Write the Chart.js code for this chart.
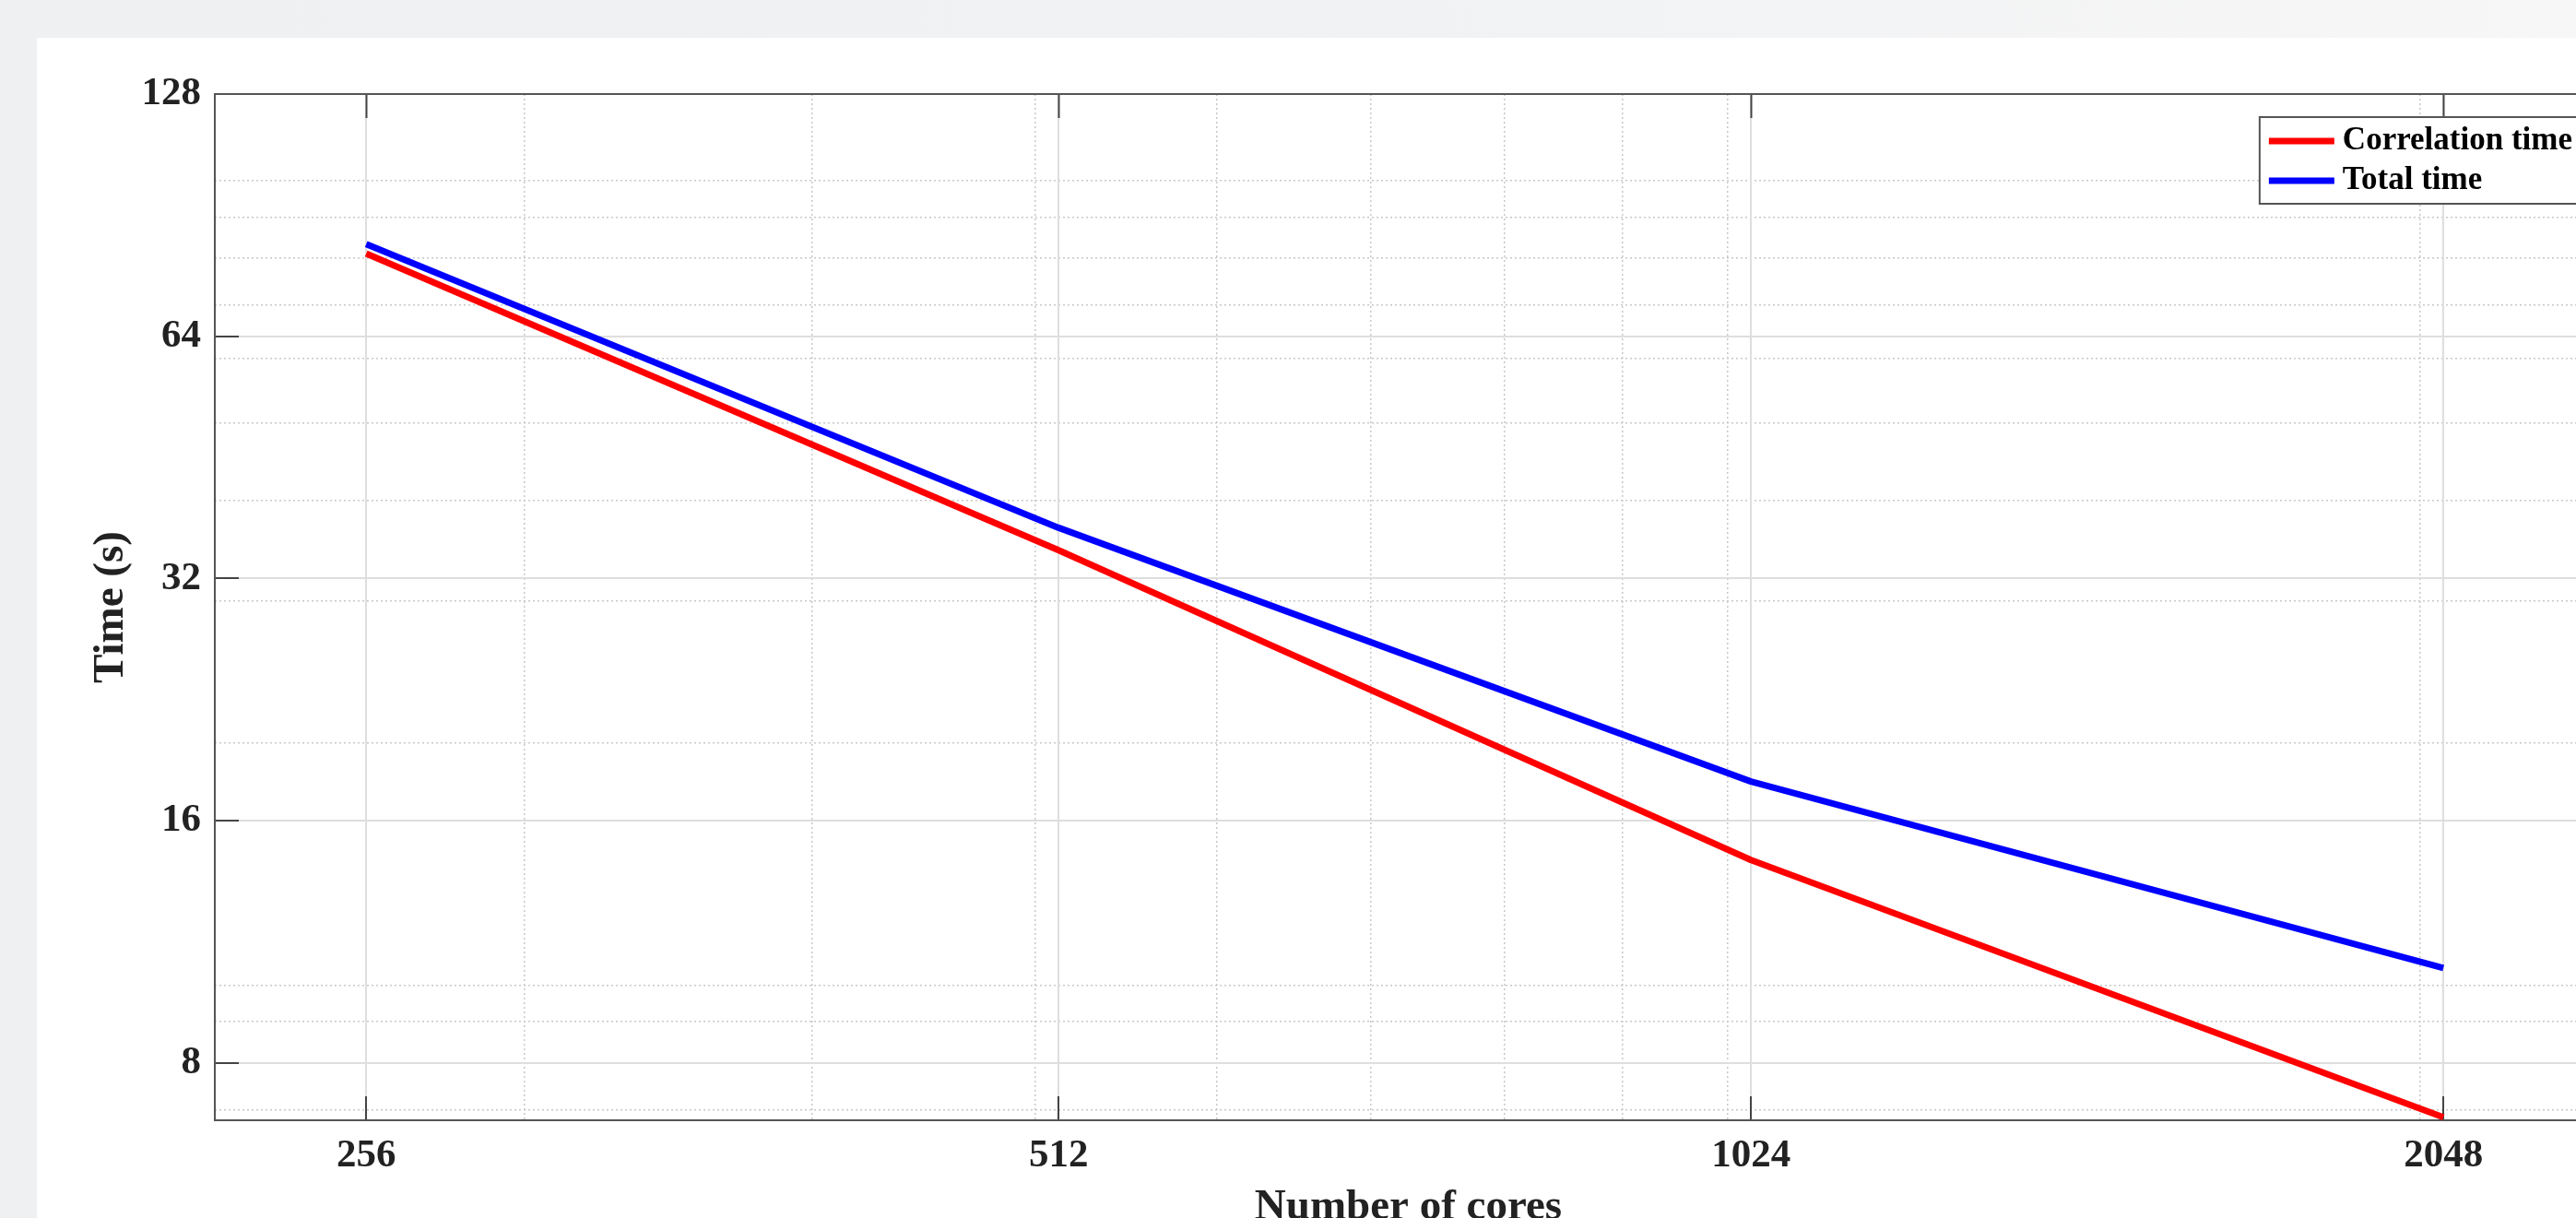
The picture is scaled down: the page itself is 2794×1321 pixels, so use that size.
<!DOCTYPE html>
<html>
<head>
<meta charset="utf-8">
<title>Scaling: time vs number of cores</title>
<script src="https://cdn.jsdelivr.net/npm/chart.js@4/dist/chart.umd.min.js"></script>
<style>
  html, body {
    margin: 0;
    padding: 0;
    width: 2794px;
    height: 1321px;
    overflow: hidden;
    background: linear-gradient(90deg, #eef0f2 0%, #f1f2f4 55%, #f7f7f7 100%);
  }
  #panel {
    position: absolute;
    left: 40px;
    top: 41px;
    width: 2830px;
    height: 1330px;
    background: #ffffff;
  }
  canvas { display: block; }
</style>
</head>
<body>
<div id="panel"><canvas id="chart" width="2830" height="1330"></canvas></div>
<script>
// ---- data ----
const cores = [256, 512, 1024, 2048];
const correlationTime = [81.1, 34.7, 14.3, 6.85];
const totalTime = [83.3, 37.0, 17.9, 10.5];

// ---- axis ticks and limits ----
const xMajorTicks = [256, 512, 1024, 2048];
const xMinorTicks = [300, 400, 500, 600, 700, 800, 900, 1000, 2000];
const yMajorTicks = [8, 16, 32, 64, 128];
const yMinorTicks = [7, 9, 10, 20, 30, 40, 50, 60, 70, 80, 90, 100];
const xLimits = [220, 2400];
const yLimits = [6.79, 128];

const seriesLabels = ['Correlation time', 'Total time'];
const seriesColors = ['#ff0000', '#0000ff'];

Chart.defaults.font.family = "'Liberation Serif', 'Times New Roman', serif";
Chart.defaults.font.weight = 'bold';

const AXIS_COLOR = '#555555';
const TICK_COLOR = '#444444';
const TEXT_COLOR = '#222222';
const MAJOR_GRID = '#dedede';
const MINOR_GRID = '#c8c8c8';

const useTicks = list => scale => { scale.ticks = list.map(v => ({ value: v })); };

// Fixed box sizes so the plot area lands where the layout wants it.
const fitHeight = h => scale => {
  scale.height = h;
  scale.paddingLeft = scale.paddingRight = scale.paddingTop = scale.paddingBottom = 0;
};
const fitWidth = w => scale => {
  scale.width = w;
  scale.paddingLeft = scale.paddingRight = scale.paddingTop = scale.paddingBottom = 0;
};

// Inward tick marks (box-style axes)
const inwardTicks = {
  drawTicks: true,
  tickLength: -26,
  tickColor: TICK_COLOR,
  tickWidth: 2
};

// Boxed legend drawn inside the upper-right corner of the plot area
const boxedLegend = {
  id: 'boxedLegend',
  afterDraw(chart) {
    const { ctx, chartArea } = chart;
    const fontSize = 35;
    ctx.save();
    ctx.font = `bold ${fontSize}px 'Liberation Serif', 'Times New Roman', serif`;
    const sets = chart.data.datasets;
    const textW = Math.max(...sets.map(d => ctx.measureText(d.label).width));
    const padL = 10, sampleLen = 71, gap = 9, padR = 10;
    const rowGap = 43, firstRow = 26, boxH = 94;
    const boxW = padL + sampleLen + gap + textW + padR;
    const right = chartArea.right - 22;
    const left = right - boxW;
    const top = chartArea.top + 25;

    ctx.fillStyle = '#ffffff';
    ctx.fillRect(left, top, boxW, boxH);
    ctx.strokeStyle = AXIS_COLOR;
    ctx.lineWidth = 2;
    ctx.strokeRect(left, top, boxW, boxH);

    sets.forEach((d, i) => {
      const y = top + firstRow + i * rowGap;
      ctx.beginPath();
      ctx.strokeStyle = d.borderColor;
      ctx.lineWidth = 7;
      ctx.lineCap = 'butt';
      ctx.moveTo(left + padL, y);
      ctx.lineTo(left + padL + sampleLen, y);
      ctx.stroke();
      ctx.fillStyle = '#000000';
      ctx.textAlign = 'left';
      ctx.textBaseline = 'middle';
      ctx.fillText(d.label, left + padL + sampleLen + gap, y);
    });
    ctx.restore();
  }
};

const toPoints = values => cores.map((c, i) => ({ x: c, y: values[i] }));

new Chart(document.getElementById('chart'), {
  type: 'line',
  data: {
    datasets: [
      {
        label: seriesLabels[0],
        data: toPoints(correlationTime),
        borderColor: seriesColors[0],
        backgroundColor: seriesColors[0],
        borderWidth: 7,
        borderJoinStyle: 'round',
        pointRadius: 0,
        tension: 0,
        xAxisID: 'x',
        yAxisID: 'y'
      },
      {
        label: seriesLabels[1],
        data: toPoints(totalTime),
        borderColor: seriesColors[1],
        backgroundColor: seriesColors[1],
        borderWidth: 7,
        borderJoinStyle: 'round',
        pointRadius: 0,
        tension: 0,
        xAxisID: 'x',
        yAxisID: 'y'
      }
    ]
  },
  options: {
    responsive: false,
    animation: false,
    devicePixelRatio: 1,
    layout: { padding: { left: 0, top: 61, right: 48, bottom: 0 } },
    plugins: {
      legend: { display: false },
      tooltip: { enabled: false }
    },
    scales: {
      xMinor: {
        type: 'logarithmic',
        position: 'bottom',
        min: xLimits[0], max: xLimits[1],
        afterBuildTicks: useTicks(xMinorTicks),
        afterFit: fitHeight(0),
        grid: { color: MINOR_GRID, lineWidth: 1.5, drawTicks: false },
        border: { display: false, dash: [2, 3] },
        ticks: { display: false }
      },
      yMinor: {
        type: 'logarithmic',
        position: 'left',
        min: yLimits[0], max: yLimits[1],
        afterBuildTicks: useTicks(yMinorTicks),
        afterFit: fitWidth(0),
        grid: { color: MINOR_GRID, lineWidth: 1.5, drawTicks: false },
        border: { display: false, dash: [2, 3] },
        ticks: { display: false }
      },
      x: {
        type: 'logarithmic',
        position: 'bottom',
        min: xLimits[0], max: xLimits[1],
        afterBuildTicks: useTicks(xMajorTicks),
        afterFit: fitHeight(156),
        grid: Object.assign({ color: MAJOR_GRID, lineWidth: 2 }, inwardTicks),
        border: { display: true, color: AXIS_COLOR, width: 2 },
        ticks: {
          padding: 39,
          autoSkip: false,
          maxRotation: 0,
          color: TEXT_COLOR,
          font: { size: 43, weight: 'bold' },
          callback: v => String(v)
        },
        title: {
          display: true,
          text: 'Number of cores',
          color: TEXT_COLOR,
          font: { size: 47, weight: 'bold' },
          padding: { top: 0, bottom: 33 }
        }
      },
      y: {
        type: 'logarithmic',
        position: 'left',
        min: yLimits[0], max: yLimits[1],
        afterBuildTicks: useTicks(yMajorTicks),
        afterFit: fitWidth(193),
        grid: Object.assign({ color: MAJOR_GRID, lineWidth: 2 }, inwardTicks),
        border: { display: true, color: AXIS_COLOR, width: 2 },
        ticks: {
          padding: 41,
          autoSkip: false,
          color: TEXT_COLOR,
          font: { size: 43, weight: 'bold' },
          callback: v => String(v)
        },
        title: {
          display: true,
          text: 'Time (s)',
          color: TEXT_COLOR,
          font: { size: 47, weight: 'bold' },
          padding: { top: 53, bottom: 0 }
        }
      },
      xTop: {
        type: 'logarithmic',
        position: 'top',
        min: xLimits[0], max: xLimits[1],
        afterBuildTicks: useTicks(xMajorTicks),
        afterFit: fitHeight(0),
        grid: Object.assign({ drawOnChartArea: false }, inwardTicks),
        border: { display: true, color: AXIS_COLOR, width: 2 },
        ticks: { display: false }
      },
      yRight: {
        type: 'logarithmic',
        position: 'right',
        min: yLimits[0], max: yLimits[1],
        afterBuildTicks: useTicks(yMajorTicks),
        afterFit: fitWidth(0),
        grid: Object.assign({ drawOnChartArea: false }, inwardTicks),
        border: { display: true, color: AXIS_COLOR, width: 2 },
        ticks: { display: false }
      }
    }
  },
  plugins: [boxedLegend]
});
</script>
</body>
</html>
